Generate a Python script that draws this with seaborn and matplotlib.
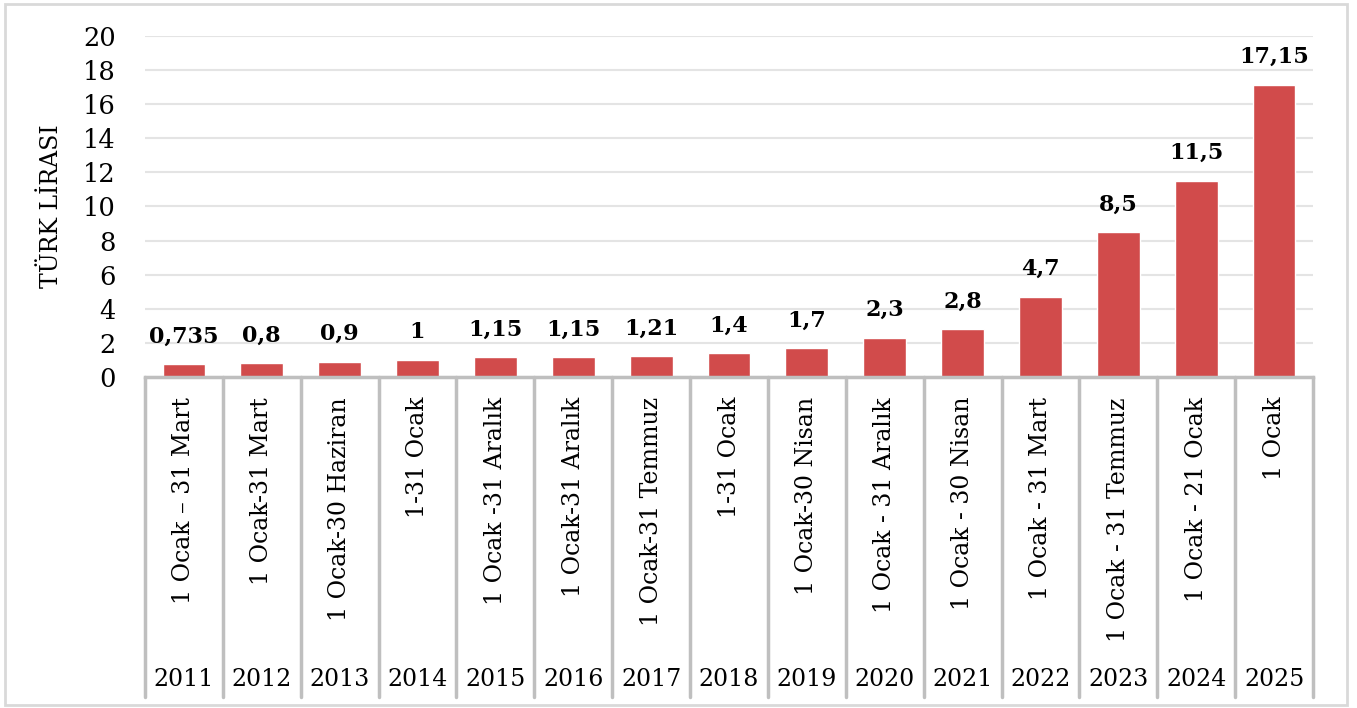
import matplotlib
matplotlib.use("Agg")
import matplotlib.pyplot as plt
import seaborn as sns
import pandas as pd
from matplotlib.lines import Line2D
from matplotlib.patches import Rectangle

years = ["2011", "2012", "2013", "2014", "2015", "2016", "2017", "2018",
         "2019", "2020", "2021", "2022", "2023", "2024", "2025"]
periods = ["1 Ocak – 31 Mart", "1 Ocak-31 Mart", "1 Ocak-30 Haziran", "1-31 Ocak",
           "1 Ocak -31 Aralık", "1 Ocak-31 Aralık", "1 Ocak-31 Temmuz", "1-31 Ocak",
           "1 Ocak-30 Nisan", "1 Ocak - 31 Aralık", "1 Ocak - 30 Nisan",
           "1 Ocak - 31 Mart", "1 Ocak - 31 Temmuz", "1 Ocak - 21 Ocak", "1 Ocak"]
values = [0.735, 0.8, 0.9, 1, 1.15, 1.15, 1.21, 1.4, 1.7, 2.3, 2.8, 4.7, 8.5, 11.5, 17.15]
value_labels = ["0,735", "0,8", "0,9", "1", "1,15", "1,15", "1,21", "1,4", "1,7",
                "2,3", "2,8", "4,7", "8,5", "11,5", "17,15"]

sns.set_style("white")
plt.rcParams['font.family'] = ['DejaVu Serif']

W, H = 1357, 708
fig = plt.figure(figsize=(W / 100, H / 100), dpi=100)
left, right, top, bottom = 145, 1313, 36, 377
ax = fig.add_axes([left / W, 1 - bottom / H, (right - left) / W, (bottom - top) / H])

df = pd.DataFrame({"key": [f"{y}|{p}" for y, p in zip(years, periods)], "value": values})
sns.barplot(data=df, x="key", y="value", color="#D14B4B", saturation=1, width=0.55, ax=ax, zorder=3)

ax.set_ylim(0, 20)
ax.set_xlim(-0.5, len(values) - 0.5)
ax.set_yticks(range(0, 21, 2))
ax.tick_params(axis="y", length=0, pad=21, labelsize=18.5)
for lab in ax.get_yticklabels():
    lab.set_color("#000000")
ax.set_xticks([])
ax.set_xlabel("")
ax.set_ylabel("")
ax.yaxis.grid(True, color="#E4E4E4", linewidth=1.5, zorder=0)
ax.set_axisbelow(True)
for s in ["left", "right", "top"]:
    ax.spines[s].set_visible(False)
ax.spines["bottom"].set_color("#BFBFBF")
ax.spines["bottom"].set_linewidth(2.5)
ax.spines["bottom"].set_zorder(4)

for i, (v, t) in enumerate(zip(values, value_labels)):
    ax.annotate(t, (i, v), xytext=(0, 12), textcoords="offset points",
                ha="center", va="bottom", fontsize=16, fontweight="bold", color="#000000")

# multi-level category axis
axh = bottom - top
y_end = -(697 - bottom) / axh
xt = ax.get_xaxis_transform()
for i in range(len(values) + 1):
    ax.add_line(Line2D([i - 0.5, i - 0.5], [0, y_end], transform=xt, color="#BFBFBF",
                       linewidth=2.5, clip_on=False))
y_period = -(397 - bottom) / axh
y_year = -(680 - bottom) / axh
for i, (p, y) in enumerate(zip(periods, years)):
    ax.text(i, y_period, p, transform=xt, rotation=90, ha="center", va="top",
            fontsize=17, color="#000000")
    ax.text(i, y_year, y, transform=xt, ha="center", va="center", fontsize=17, color="#000000")

fig.text(52 / W, 1 - 206 / H, "TÜRK LİRASI", rotation=90, ha="center", va="center",
         fontsize=17, color="#000000")

fig.patches.append(Rectangle((5 / W, 1 - 705 / H), (1347 - 5) / W, (705 - 4) / H,
                             transform=fig.transFigure, fill=False, edgecolor="#D9D9D9",
                             linewidth=2))

fig.savefig("out.png", dpi=100)
